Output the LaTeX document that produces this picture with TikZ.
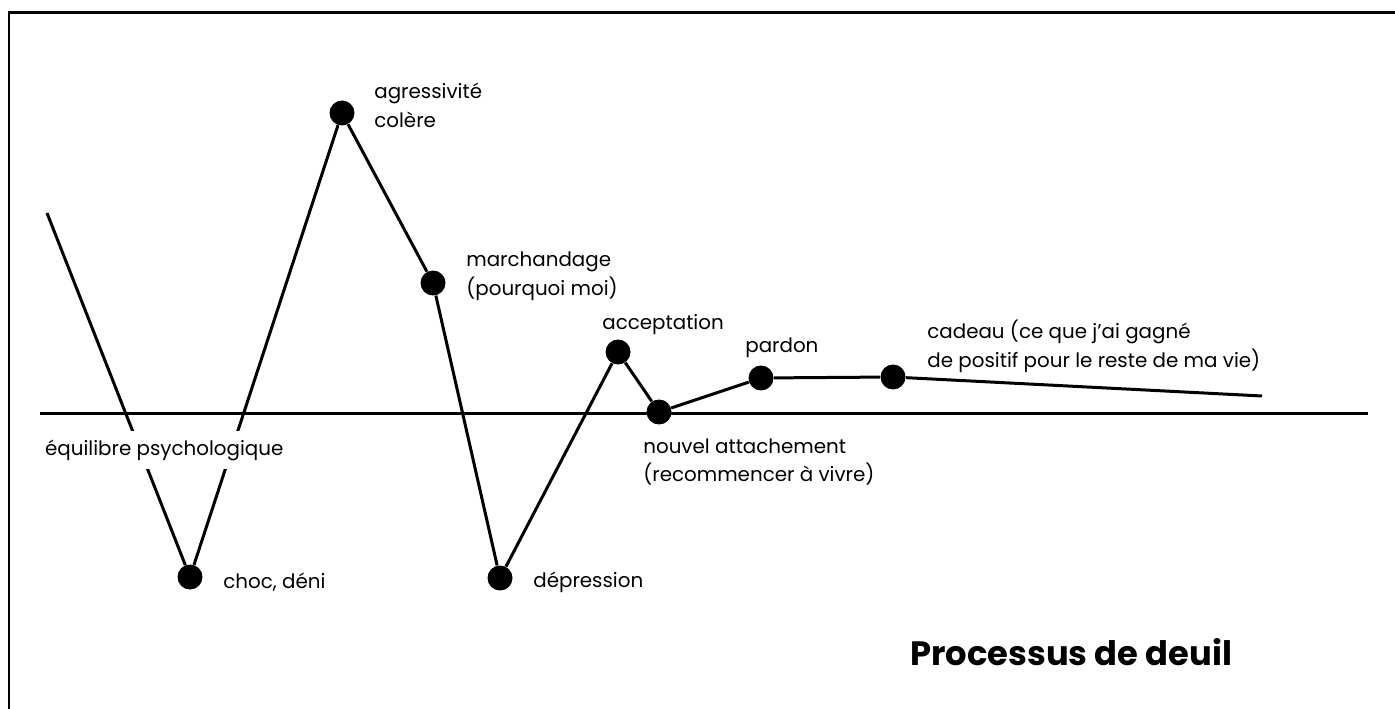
\documentclass[tikz,border=0pt]{standalone}
\usepackage{fontspec}
\setmainfont{Poppins}
\usetikzlibrary{positioning}

\tikzset{
  stage/.style={circle, fill=black, inner sep=0pt, minimum size=0.5cm},
  lbl/.style={anchor=west, align=left, inner sep=0pt, font=\fontsize{11.3}{16.5}\selectfont},
}

\begin{document}
\begin{tikzpicture}[x=0.02cm, y=-0.02cm]
\useasboundingbox (0,0) rectangle (1395,709);

% frame
\draw[line width=0.06cm] (9,709) -- (9,13) -- (1395,13);

\coordinate (s) at (47,213);
\coordinate (e) at (1262,396);
\coordinate (h1) at (40,413);
\coordinate (h2) at (1368,413);

\node[stage] (choc) at (190,577) {};
\node[stage] (colere) at (342,113) {};
\node[stage] (march) at (433,283) {};
\node[stage] (depr) at (500,578) {};
\node[stage] (accept) at (618,352) {};
\node[stage] (nouvel) at (659,412) {};
\node[stage] (pardon) at (761,378) {};
\node[stage] (cadeau) at (893,377) {};

\draw[line width=0.06cm] (h1) -- (h2);
\draw[line width=0.06cm] (s) -- (choc) -- (colere) -- (march) -- (depr) -- (accept) -- (nouvel) -- (pardon) -- (cadeau) -- (e);

\node[lbl, fill=white, inner sep=5pt] (equil) at (36,450) {équilibre psychologique};
\node[lbl] at (223,582) {choc, déni};
\node[lbl] at (374,105) {agressivité\\colère};
\node[lbl] at (466,276) {marchandage\\(pourquoi moi)};
\node[lbl] at (533,582) {dépression};
\node[lbl] at (602,325) {acceptation};
\node[lbl] at (643,462) {nouvel attachement\\(recommencer à vivre)};
\node[lbl] at (745,348) {pardon};
\node[lbl] at (927,346) {cadeau (ce que j'ai gagné\\de positif pour le reste de ma vie)};

\node[anchor=west, inner sep=0pt, font=\fontsize{19.2}{23}\selectfont\bfseries] (titre) at (910,652) {Processus de deuil};

\end{tikzpicture}
\end{document}
